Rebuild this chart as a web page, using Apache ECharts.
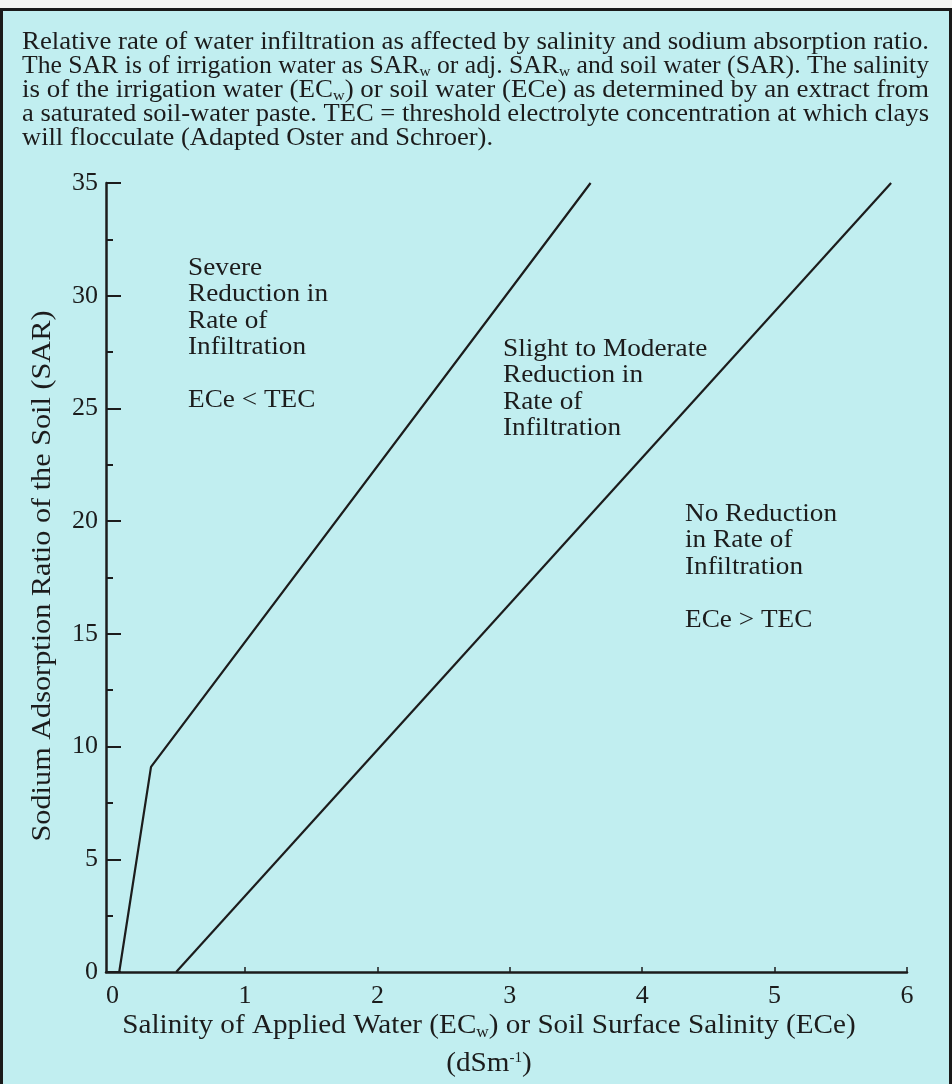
<!DOCTYPE html>
<html>
<head>
<meta charset="utf-8">
<script src="https://cdn.jsdelivr.net/npm/echarts@6/dist/echarts.min.js"></script>
<style>
html,body{margin:0;padding:0;background:#f4f4f2;}
#frame{position:absolute;left:0;top:8px;width:946px;height:1080px;background:#c1eef0;border-left:3px solid #1a1a1a;border-right:3px solid #1a1a1a;border-top:3px solid #1a1a1a;}
#main{position:absolute;left:0;top:0;width:952px;height:1084px;}
</style>
</head>
<body>
<div id="frame"></div>
<div id="main"></div>
<script>
// ---- data ----
const xTicks = [0, 1, 2, 3, 4, 5, 6];
const xTickMarks = [1, 2, 3, 4, 5, 6];
const yTicks = [0, 5, 10, 15, 20, 25, 30, 35];
const boundaryUpperX = [0.05, 0.29, 3.61];
const boundaryUpperY = [0, 9.1, 35];
const boundaryLowerX = [0.48, 5.88];
const boundaryLowerY = [0, 35];
const captionLines = [
  'Relative rate of water infiltration as affected by salinity and sodium absorption ratio.',
  'The SAR is of irrigation water as SAR{sub|w} or adj. SAR{sub|w} and soil water (SAR). The salinity',
  'is of the irrigation water (EC{sub|w}) or soil water (ECe) as determined by an extract from',
  'a saturated soil-water paste. TEC = threshold electrolyte concentration at which clays',
  'will flocculate (Adapted Oster and Schroer).'
];
const regionSevere = ['Severe', 'Reduction in', 'Rate of', 'Infiltration', '', 'ECe < TEC'];
const regionSlight = ['Slight to Moderate', 'Reduction in', 'Rate of', 'Infiltration'];
const regionNone = ['No Reduction', 'in Rate of', 'Infiltration', '', 'ECe > TEC'];
const xAxisTitle = 'Salinity of Applied Water (EC{sub|w}) or Soil Surface Salinity (ECe)';
const xAxisUnit = '(dSm{sup|-1})';
const yAxisTitle = 'Sodium Adsorption Ratio of the Soil (SAR)';

const FONT = '"Liberation Serif", "DejaVu Serif", serif';
const INK = '#1c1c1c';

const chart = echarts.init(document.getElementById('main'), null, {renderer: 'canvas'});

function zipPts(xs, ys) { return xs.map((x, i) => [x, ys[i]]); }

const captionRich = {sub: {fontSize: 15, fontFamily: FONT, fill: INK, lineHeight: 12, padding: [12, 0, 0, 0]}};
function captionStyle(t) {
  return {text: t, fontFamily: FONT, fontSize: 25, fill: INK, lineHeight: 24, textVerticalAlign: 'middle', rich: captionRich};
}
// justified caption block: lines 1-4 span the same width
const CAPTION_LEFT = 22, CAPTION_WIDTH = 907;
const captionScales = captionLines.map(t => {
  const w = new echarts.graphic.Text({style: captionStyle(t)}).getBoundingRect().width;
  return CAPTION_WIDTH / w;
});
const avgScale = captionScales.slice(0, 4).reduce((a, b) => a + b, 0) / 4;

const graphics = [];
captionLines.forEach((t, i) => {
  graphics.push({
    type: 'text', x: CAPTION_LEFT, y: 42 + i * 24,
    scaleX: i < captionLines.length - 1 ? captionScales[i] : avgScale,
    style: captionStyle(t)
  });
});
function block(lines, x, y) {
  let yy = y;
  lines.forEach(t => {
    if (t === '') { yy += 26.5; return; }
    graphics.push({type: 'text', x: x, y: yy, scaleX: 1.09,
      style: {text: t, fontFamily: FONT, fontSize: 25, fill: INK, textVerticalAlign: 'middle'}});
    yy += 26.5;
  });
}
block(regionSevere, 188, 268);
block(regionSlight, 503, 349);
block(regionNone, 685, 514);

graphics.push({
  type: 'text', x: 43, y: 576, rotation: Math.PI / 2, scaleX: 1.12,
  style: {text: yAxisTitle, fontFamily: FONT, fontSize: 27, fill: INK, textAlign: 'center', textVerticalAlign: 'middle'}
});
graphics.push({
  type: 'text', x: 489, y: 1026, scaleX: 1.08,
  style: {text: xAxisTitle, fontFamily: FONT, fontSize: 27, fill: INK, textAlign: 'center', textVerticalAlign: 'middle',
    rich: {sub: {fontSize: 16, fontFamily: FONT, fill: INK, lineHeight: 14, padding: [14, 0, 0, 0]}}}
});
graphics.push({
  type: 'text', x: 489, y: 1064, scaleX: 1.08,
  style: {text: xAxisUnit, fontFamily: FONT, fontSize: 27, fill: INK, textAlign: 'center', textVerticalAlign: 'middle',
    rich: {sup: {fontSize: 14, fontFamily: FONT, fill: INK, lineHeight: 14, padding: [0, 0, 12, 0]}}}
});

const option = {
  backgroundColor: 'transparent',
  animation: false,
  grid: {left: 106, right: 45, top: 183, bottom: 112, containLabel: false},
  xAxis: {
    type: 'value', min: -0.05, max: 6,
    axisLine: {show: true, onZero: false, lineStyle: {color: INK, width: 2.5}},
    axisTick: {show: true, inside: true, length: 5, customValues: xTickMarks, lineStyle: {color: INK, width: 1.5}},
    axisLabel: {color: INK, fontFamily: FONT, fontSize: 26, margin: 11, customValues: xTicks},
    splitLine: {show: false}
  },
  yAxis: {
    type: 'value', min: 0, max: 35, interval: 5,
    axisLine: {show: true, onZero: false, lineStyle: {color: INK, width: 2.5}},
    axisTick: {show: true, inside: true, length: 15, lineStyle: {color: INK, width: 2}},
    minorTick: {show: true, splitNumber: 2, length: 7, lineStyle: {color: INK, width: 2}},
    axisLabel: {color: INK, fontFamily: FONT, fontSize: 26, margin: 8},
    splitLine: {show: false}
  },
  series: [
    {type: 'line', data: zipPts(boundaryUpperX, boundaryUpperY), showSymbol: false,
      lineStyle: {color: INK, width: 2.2}, z: 3},
    {type: 'line', data: zipPts(boundaryLowerX, boundaryLowerY), showSymbol: false,
      lineStyle: {color: INK, width: 2.2}, z: 3}
  ],
  graphic: graphics
};
chart.setOption(option);
</script>
</body>
</html>
